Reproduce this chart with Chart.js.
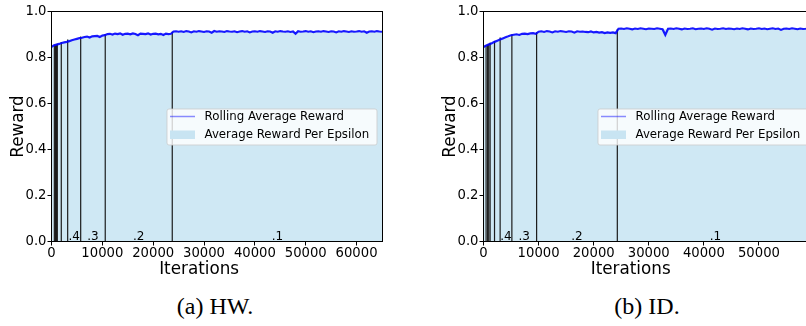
<!DOCTYPE html>
<html>
<head>
<meta charset="utf-8">
<script src="https://cdn.jsdelivr.net/npm/chart.js@4.4.1/dist/chart.umd.min.js"></script>
<style>
  html, body { margin: 0; padding: 0; background: #fff; }
  body { width: 806px; height: 326px; position: relative; overflow: hidden; }
  canvas { position: absolute; top: 0; }
  #hw { left: 0; }
  #id { left: 400px; }
  .caption {
    position: absolute; top: 294px; width: 200px; text-align: center;
    font: 24px/24px 'Liberation Serif', 'Times New Roman', serif; color: #000;
  }
</style>
</head>
<body>
<canvas id="hw" width="400" height="285"></canvas>
<canvas id="id" width="420" height="285"></canvas>
<div class="caption" style="left:115px">(a) HW.</div>
<div class="caption" style="left:547px">(b) ID.</div>
<script>
// rolling average sampled every 500 iterations
const SAMPLE_STEP = 500;

const yTicks = [0, 0.2, 0.4, 0.6, 0.8, 1.0];
const epsilons = [1.0, 0.9, 0.8, 0.7, 0.6, 0.5, 0.4, 0.3, 0.2, 0.1];

// ---- (a) HW ----
const xTicksHW = [0, 10000, 20000, 30000, 40000, 50000, 60000];
const xMaxHW = 65100;
const segStartsHW = [0, 560, 790, 1000, 1140, 1925, 3180, 5740, 10570, 23750];
const levelsHW = [0.849, 0.853, 0.855, 0.856, 0.860, 0.867, 0.878, 0.891, 0.901, 0.912];
const rewardsHW = [
  0.846, 0.853, 0.856, 0.859, 0.863, 0.866, 0.868, 0.871, 0.875, 0.878,
  0.881, 0.884, 0.886, 0.889, 0.891, 0.887, 0.892, 0.893, 0.894, 0.889,
  0.895, 0.897, 0.902, 0.903, 0.900, 0.904, 0.902, 0.905, 0.899, 0.903,
  0.904, 0.901, 0.905, 0.902, 0.897, 0.904, 0.903, 0.902, 0.905, 0.900,
  0.903, 0.904, 0.901, 0.903, 0.898, 0.904, 0.902, 0.903, 0.913, 0.914,
  0.912, 0.914, 0.911, 0.915, 0.913, 0.909, 0.914, 0.912, 0.915, 0.913,
  0.911, 0.914, 0.913, 0.908, 0.915, 0.912, 0.914, 0.913, 0.911, 0.915,
  0.913, 0.912, 0.914, 0.910, 0.913, 0.915, 0.912, 0.914, 0.909, 0.913,
  0.914, 0.912, 0.915, 0.913, 0.911, 0.914, 0.913, 0.908, 0.914, 0.912,
  0.915, 0.913, 0.912, 0.914, 0.911, 0.913, 0.903, 0.914, 0.912, 0.913,
  0.915, 0.912, 0.914, 0.910, 0.913, 0.914, 0.912, 0.915, 0.913, 0.911,
  0.914, 0.913, 0.909, 0.914, 0.912, 0.915, 0.913, 0.911, 0.914, 0.912,
  0.913, 0.915, 0.912, 0.914, 0.908, 0.913, 0.914, 0.912, 0.915, 0.913,
  0.912
];

// ---- (b) ID ----
const xTicksID = [0, 10000, 20000, 30000, 40000, 50000];
const xMaxID = 59900;
const segStartsID = [0, 470, 750, 950, 1200, 2000, 3020, 5150, 9640, 24290];
const levelsID = [0.848, 0.852, 0.855, 0.858, 0.864, 0.872, 0.887, 0.900, 0.910, 0.923];
const rewardsID = [
  0.846, 0.852, 0.857, 0.862, 0.868, 0.873, 0.878, 0.883, 0.888, 0.892,
  0.897, 0.899, 0.901, 0.898, 0.903, 0.904, 0.902, 0.905, 0.906, 0.903,
  0.912, 0.914, 0.911, 0.915, 0.913, 0.909, 0.914, 0.912, 0.915, 0.913,
  0.911, 0.914, 0.913, 0.908, 0.914, 0.912, 0.913, 0.911, 0.910, 0.913,
  0.909, 0.911, 0.908, 0.910, 0.906, 0.909, 0.907, 0.909, 0.906, 0.925,
  0.926, 0.924, 0.927, 0.925, 0.922, 0.926, 0.924, 0.927, 0.925, 0.923,
  0.926, 0.925, 0.924, 0.927, 0.925, 0.923, 0.898, 0.925, 0.926, 0.924,
  0.927, 0.925, 0.922, 0.926, 0.924, 0.925, 0.927, 0.923, 0.925, 0.926,
  0.924, 0.927, 0.925, 0.921, 0.926, 0.924, 0.925, 0.927, 0.924, 0.926,
  0.925, 0.923, 0.926, 0.924, 0.927, 0.925, 0.922, 0.926, 0.924, 0.925,
  0.927, 0.924, 0.926, 0.923, 0.925, 0.927, 0.924, 0.926, 0.920, 0.925,
  0.926, 0.924, 0.927, 0.925, 0.923, 0.926, 0.924, 0.925, 0.927, 0.924
];

const FONT = "'DejaVu Sans', sans-serif";
const FILL_COLOR = '#cfe8f4';
const LINE_COLOR = 'rgba(0, 0, 255, 0.9)';

// vertical epsilon boundaries + epsilon labels, drawn right after the fill
const epsilonMarks = {
  id: 'epsilonMarks',
  afterDatasetDraw(chart, args, opts) {
    if (args.index !== 1) return;
    const { ctx, chartArea: area, scales: { x, y } } = chart;
    const starts = opts.starts, levels = opts.levels;
    ctx.save();
    ctx.beginPath();
    ctx.rect(area.left, area.top, area.right - area.left, area.bottom - area.top);
    ctx.clip();
    ctx.strokeStyle = '#1c1c1c';
    ctx.lineWidth = 1.2;
    for (let i = 1; i < starts.length; i++) {
      const px = x.getPixelForValue(starts[i]);
      const top = y.getPixelForValue(Math.max(levels[i - 1], levels[i]));
      ctx.beginPath();
      ctx.moveTo(px, area.bottom);
      ctx.lineTo(px, top);
      ctx.stroke();
    }
    ctx.fillStyle = '#000';
    ctx.font = '12px ' + FONT;
    ctx.textAlign = 'center';
    ctx.textBaseline = 'alphabetic';
    for (let i = 0; i < starts.length; i++) {
      const end = i + 1 < starts.length ? starts[i + 1] : x.max;
      const a = x.getPixelForValue(starts[i]), b = x.getPixelForValue(end);
      if (b - a < 10) continue;
      const txt = epsilons[i].toFixed(1).replace(/^0/, '');
      ctx.fillText(txt, (a + b) / 2, area.bottom - 1.8);
    }
    ctx.restore();
  }
};

// frame, legend and axis titles
const decorations = {
  id: 'decorations',
  afterDraw(chart) {
    const { ctx, chartArea: area } = chart;
    ctx.save();
    ctx.strokeStyle = '#000';
    ctx.lineWidth = 1;
    ctx.strokeRect(area.left, area.top, area.right - area.left, area.bottom - area.top);

    // legend, centre right
    const w = 210, h = 36;
    const lx = area.right - 6 - w;
    const ly = (area.top + area.bottom) / 2 - h / 2;
    ctx.fillStyle = 'rgba(255,255,255,0.8)';
    ctx.strokeStyle = 'rgba(204,204,204,0.8)';
    ctx.beginPath();
    ctx.roundRect(lx + 0.5, ly + 0.5, w, h, 2);
    ctx.fill();
    ctx.stroke();
    ctx.strokeStyle = 'rgba(0,0,255,0.45)';
    ctx.lineWidth = 1.5;
    ctx.beginPath();
    ctx.moveTo(lx + 3.5, ly + 8);
    ctx.lineTo(lx + 28.5, ly + 8);
    ctx.stroke();
    ctx.fillStyle = '#c8e4f2';
    ctx.fillRect(lx + 3.5, ly + 22, 25, 8.5);
    ctx.fillStyle = '#000';
    ctx.font = '11.8px ' + FONT;
    ctx.textAlign = 'left';
    ctx.textBaseline = 'middle';
    chart.data.datasets.forEach((ds, i) => {
      ctx.fillText(ds.label, lx + 38, ly + 8.5 + i * 18);
    });

    // axis titles
    ctx.font = '16.8px ' + FONT;
    ctx.textBaseline = 'alphabetic';
    ctx.textAlign = 'center';
    ctx.fillText('Iterations', area.left + 0.446 * (area.right - area.left), 274.3);
    ctx.translate(area.left - 29, (area.top + area.bottom) / 2);
    ctx.rotate(-Math.PI / 2);
    ctx.fillText('Reward', 0, 0);
    ctx.restore();
  }
};

function buildChart(id, p) {
  const rolling = p.rewards.map((v, i) => ({ x: i * SAMPLE_STEP, y: v }));
  const steps = p.starts.map((s, i) => ({ x: s, y: p.levels[i] }));
  steps.push({ x: p.xMax, y: p.levels[p.levels.length - 1] });

  const tickFont = { family: FONT, size: 13.2 };
  return new Chart(document.getElementById(id), {
    type: 'line',
    data: {
      datasets: [
        {
          label: 'Rolling Average Reward',
          data: rolling,
          borderColor: LINE_COLOR,
          borderWidth: 2.2,
          pointRadius: 0,
          fill: false,
          tension: 0,
        },
        {
          label: 'Average Reward Per Epsilon',
          data: steps,
          stepped: true,
          borderWidth: 0,
          borderColor: 'rgba(0,0,0,0)',
          pointRadius: 0,
          fill: 'origin',
          backgroundColor: FILL_COLOR,
        },
      ],
    },
    options: {
      responsive: false,
      animation: false,
      events: [],
      layout: { padding: { top: 11.5, right: p.padRight, left: 0, bottom: 0 } },
      plugins: {
        legend: { display: false },
        tooltip: { enabled: false },
        epsilonMarks: { starts: p.starts, levels: p.levels },
      },
      scales: {
        x: {
          type: 'linear',
          min: 0,
          max: p.xMax,
          afterFit: s => { s.height = 43.5; },
          afterBuildTicks: s => { s.ticks = p.xTicks.map(v => ({ value: v })); },
          grid: { display: true, drawOnChartArea: false, drawTicks: true, tickLength: 4, color: '#000' },
          border: { display: true, color: '#000', width: 1 },
          ticks: {
            color: '#000', font: tickFont, padding: 0, maxRotation: 0, autoSkip: false,
            callback: v => String(v),
          },
        },
        y: {
          type: 'linear',
          min: 0,
          max: 1,
          afterFit: s => { s.width = p.yWidth; },
          afterBuildTicks: s => { s.ticks = yTicks.map(v => ({ value: v })); },
          grid: { display: true, drawOnChartArea: false, drawTicks: true, tickLength: 4, color: '#000' },
          border: { display: true, color: '#000', width: 1 },
          ticks: {
            color: '#000', font: tickFont, padding: 1,
            callback: v => v.toFixed(1),
          },
        },
      },
    },
    plugins: [epsilonMarks, decorations],
  });
}

buildChart('hw', {
  rewards: rewardsHW, starts: segStartsHW, levels: levelsHW,
  xTicks: xTicksHW, xMax: xMaxHW, yWidth: 51.5, padRight: 17.5,
});
buildChart('id', {
  rewards: rewardsID, starts: segStartsID, levels: levelsID,
  xTicks: xTicksID, xMax: xMaxID, yWidth: 83.5, padRight: 6.5,
});
</script>
</body>
</html>
